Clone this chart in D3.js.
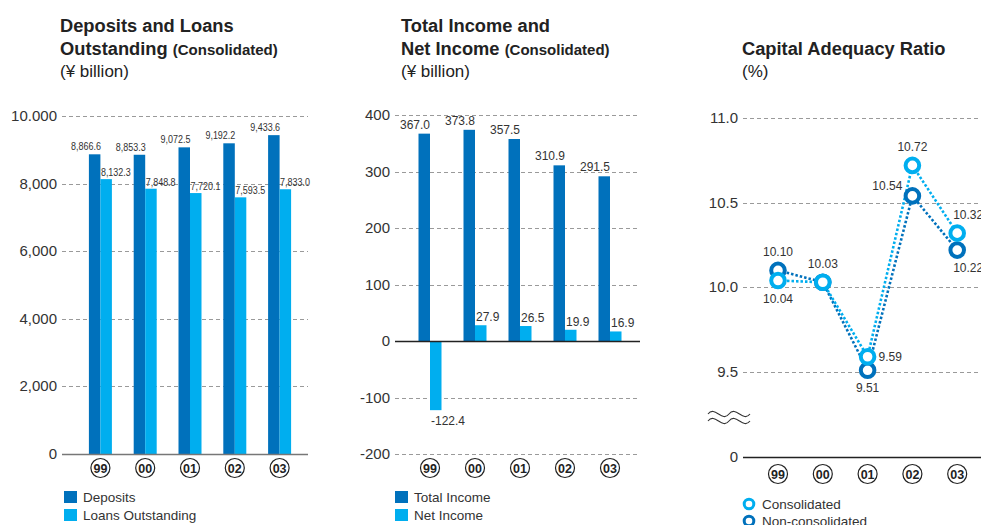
<!DOCTYPE html>
<html>
<head>
<meta charset="utf-8">
<script src="https://cdn.jsdelivr.net/npm/d3@7"></script>
<style>
  html, body { margin: 0; padding: 0; background: #fff; }
  svg { display: block; font-family: "Liberation Sans", Arial, sans-serif; }
</style>
</head>
<body>
<svg id="chart" width="981" height="525"></svg>
<script>
// Fiscal years shown on every panel
const years = ["99", "00", "01", "02", "03"];

// Panel 1: deposits and loans outstanding (¥ billion)
const deposits = [8866.6, 8853.3, 9072.5, 9192.2, 9433.6];
const loans = [8132.3, 7848.8, 7720.1, 7593.5, 7833.0];
const depTicks = [0, 2000, 4000, 6000, 8000, 10000];
const depTickLabels = ["0", "2,000", "4,000", "6,000", "8,000", "10.000"];

// Panel 2: total income and net income (¥ billion)
const totalIncome = [367.0, 373.8, 357.5, 310.9, 291.5];
const netIncome = [-122.4, 27.9, 26.5, 19.9, 16.9];
const incTicks = [-200, -100, 0, 100, 200, 300, 400];

// Panel 3: capital adequacy ratio (%)
const consolidated = [10.04, 10.03, 9.59, 10.72, 10.32];
const nonConsolidated = [10.10, 10.03, 9.51, 10.54, 10.22];
const carTicks = [9.5, 10.0, 10.5, 11.0];
const carTickLabels = ["9.5", "10.0", "10.5", "11.0"];

const DARK = "#0071bc";
const LIGHT = "#00aeef";
const GRID = "#9a9a9a";
const TEXT = "#333";
const fmt1 = d3.format(",.1f");

const svg = d3.select("#chart");

function title(x, lines) {
  const g = svg.append("g");
  lines.forEach(ln => {
    const t = g.append("text").attr("x", x).attr("y", ln.y).attr("fill", "#222");
    ln.parts.forEach(p => {
      t.append("tspan").text(p.text)
        .attr("font-size", p.size).attr("font-weight", p.bold ? "bold" : "normal");
    });
  });
}

function gridlines(g, y, ticks, x0, x1, skip) {
  g.selectAll(null).data(ticks.filter(t => !skip || !skip(t))).join("line")
    .attr("x1", x0).attr("x2", x1)
    .attr("y1", d => Math.round(y(d)) + 0.5).attr("y2", d => Math.round(y(d)) + 0.5)
    .attr("stroke", GRID).attr("stroke-width", 1).attr("stroke-dasharray", "4,3");
}

function yLabels(g, y, ticks, labels, x) {
  g.selectAll(null).data(ticks).join("text")
    .attr("x", x).attr("y", d => y(d) + 5)
    .attr("text-anchor", "end").attr("font-size", 15).attr("fill", TEXT)
    .text((d, i) => labels[i]);
}

function yearBadges(g, x, cy) {
  const b = g.selectAll(null).data(years).join("g")
    .attr("transform", d => `translate(${x(d) + x.bandwidth() / 2},${cy})`);
  b.append("circle").attr("r", 9.5).attr("fill", "#fff").attr("stroke", "#222").attr("stroke-width", 1.2);
  b.append("text").attr("y", 4.5).attr("text-anchor", "middle")
    .attr("font-size", 12.5).attr("font-weight", "bold").attr("fill", "#222").text(d => d);
}

function legendSquares(g, x, y0, items) {
  items.forEach((it, i) => {
    g.append("rect").attr("x", x).attr("y", y0 + i * 18).attr("width", 13).attr("height", 12).attr("fill", it.color);
    g.append("text").attr("x", x + 19).attr("y", y0 + i * 18 + 11)
      .attr("font-size", 13.5).attr("fill", TEXT).text(it.label);
  });
}

// ---------- Panel 1 ----------
{
  title(60, [
    { y: 32, parts: [{ text: "Deposits and Loans", size: 18.3, bold: true }] },
    { y: 55, parts: [{ text: "Outstanding ", size: 18.3, bold: true }, { text: "(Consolidated)", size: 15, bold: true }] },
    { y: 77, parts: [{ text: "(¥ billion)", size: 17 }] }
  ]);
  const g = svg.append("g");
  const x = d3.scaleBand().domain(years).range([78, 302]);
  const y = d3.scaleLinear().domain([0, 10000]).range([454, 116]);
  gridlines(g, y, depTicks, 62, 308, t => t === 0);
  yLabels(g, y, depTicks, depTickLabels, 57);

  const cx = d => x(d) + x.bandwidth() / 2;
  const bw = 11.5;
  g.selectAll(null).data(years).join("rect")
    .attr("x", d => cx(d) - bw).attr("width", bw)
    .attr("y", (d, i) => y(deposits[i])).attr("height", (d, i) => y(0) - y(deposits[i]))
    .attr("fill", DARK);
  g.selectAll(null).data(years).join("rect")
    .attr("x", d => cx(d)).attr("width", bw)
    .attr("y", (d, i) => y(loans[i])).attr("height", (d, i) => y(0) - y(loans[i]))
    .attr("fill", LIGHT);

  // condensed value labels (horizontally squeezed)
  const lbl = (px, py, anchor, txt) => g.append("text")
    .attr("transform", `translate(${px},${py}) scale(0.78,1)`)
    .attr("text-anchor", anchor).attr("font-size", 11.5).attr("fill", TEXT).text(txt);
  years.forEach((d, i) => {
    lbl(cx(d) + 0.5, y(deposits[i]) - 4, "end", fmt1(deposits[i]));
    lbl(cx(d) + 0.5, y(loans[i]) - 3, "start", fmt1(loans[i]));
  });

  g.append("line").attr("x1", 62).attr("x2", 308).attr("y1", y(0) + 0.5).attr("y2", y(0) + 0.5)
    .attr("stroke", "#777").attr("stroke-width", 1.5);

  yearBadges(g, x, 468);
  legendSquares(g, 64, 491, [{ color: DARK, label: "Deposits" }, { color: LIGHT, label: "Loans Outstanding" }]);
}

// ---------- Panel 2 ----------
{
  title(401, [
    { y: 32, parts: [{ text: "Total Income and", size: 18.3, bold: true }] },
    { y: 55, parts: [{ text: "Net Income ", size: 18.3, bold: true }, { text: "(Consolidated)", size: 15, bold: true }] },
    { y: 77, parts: [{ text: "(¥ billion)", size: 17 }] }
  ]);
  const g = svg.append("g");
  const x = d3.scaleBand().domain(years).range([407.5, 632.5]);
  const y = d3.scaleLinear().domain([-200, 400]).range([454, 115]);
  gridlines(g, y, incTicks, 395, 640, t => t === 0);
  yLabels(g, y, incTicks, incTicks.map(String), 390);

  const cx = d => x(d) + x.bandwidth() / 2;
  const bw = 11.5;
  g.selectAll(null).data(years).join("rect")
    .attr("x", d => cx(d) - bw).attr("width", bw)
    .attr("y", (d, i) => y(totalIncome[i])).attr("height", (d, i) => y(0) - y(totalIncome[i]))
    .attr("fill", DARK);
  g.selectAll(null).data(years).join("rect")
    .attr("x", d => cx(d)).attr("width", bw)
    .attr("y", (d, i) => Math.min(y(netIncome[i]), y(0)))
    .attr("height", (d, i) => Math.abs(y(0) - y(netIncome[i])))
    .attr("fill", LIGHT);

  g.selectAll(null).data(years).join("text")
    .attr("font-size", 12).attr("fill", TEXT)
    .attr("x", d => cx(d)).attr("y", (d, i) => y(totalIncome[i]) - 5)
    .attr("text-anchor", "end").text((d, i) => totalIncome[i].toFixed(1));
  g.selectAll(null).data(years).join("text")
    .attr("font-size", 12).attr("fill", TEXT)
    .attr("x", d => cx(d) + 1)
    .attr("y", (d, i) => netIncome[i] < 0 ? y(netIncome[i]) + 15 : y(netIncome[i]) - 4)
    .attr("text-anchor", "start").text((d, i) => netIncome[i].toFixed(1));

  g.append("line").attr("x1", 395).attr("x2", 640).attr("y1", y(0) + 0.5).attr("y2", y(0) + 0.5)
    .attr("stroke", "#222").attr("stroke-width", 1.3);

  yearBadges(g, x, 468);
  legendSquares(g, 395, 491, [{ color: DARK, label: "Total Income" }, { color: LIGHT, label: "Net Income" }]);
}

// ---------- Panel 3 ----------
{
  title(742, [
    { y: 55, parts: [{ text: "Capital Adequacy Ratio", size: 18.3, bold: true }] },
    { y: 77, parts: [{ text: "(%)", size: 17 }] }
  ]);
  const g = svg.append("g");
  const x = d3.scaleBand().domain(years).range([755.6, 979.6]);
  const y = d3.scaleLinear().domain([9.5, 11.0]).range([372, 118]);
  const zeroY = 457;
  gridlines(g, y, carTicks, 743, 981);
  yLabels(g, y, carTicks, carTickLabels, 738);
  g.append("text").attr("x", 738).attr("y", zeroY + 5).attr("text-anchor", "end")
    .attr("font-size", 15).attr("fill", TEXT).text("0");
  g.append("line").attr("x1", 743).attr("x2", 981).attr("y1", zeroY + 0.5).attr("y2", zeroY + 0.5)
    .attr("stroke", "#222").attr("stroke-width", 1.3);

  // axis break mark
  const wave = (y0) => {
    const p = d3.path();
    p.moveTo(708, y0);
    p.bezierCurveTo(715, y0 - 9, 722, y0 + 9, 729, y0);
    p.bezierCurveTo(736, y0 - 9, 743, y0 + 9, 750, y0);
    return p.toString();
  };
  [414, 421].forEach(yy => g.append("path").attr("d", wave(yy))
    .attr("fill", "none").attr("stroke", "#333").attr("stroke-width", 1.1));

  const cx = d => x(d) + x.bandwidth() / 2;
  const line = d3.line().x((v, i) => cx(years[i])).y(v => y(v));

  const series = [
    { values: nonConsolidated, color: DARK },
    { values: consolidated, color: LIGHT }
  ];
  series.forEach(s => {
    g.append("path").attr("d", line(s.values)).attr("fill", "none")
      .attr("stroke", s.color).attr("stroke-width", 2.6).attr("stroke-dasharray", "2.5,2");
  });
  series.forEach(s => {
    g.selectAll(null).data(s.values).join("circle")
      .attr("cx", (v, i) => cx(years[i])).attr("cy", v => y(v)).attr("r", 6.8)
      .attr("fill", "#fff").attr("stroke", s.color).attr("stroke-width", 4);
  });

  // value labels: [series, index, dx, dy, anchor]
  const labelSpec = [
    [nonConsolidated, 0, 0, -14, "middle"],
    [consolidated, 0, 0, 22, "middle"],
    [consolidated, 1, 0, -14, "middle"],
    [consolidated, 2, 11, 4, "start"],
    [nonConsolidated, 2, 0, 22, "middle"],
    [consolidated, 3, 0, -14, "middle"],
    [nonConsolidated, 3, -10, -6, "end"],
    [consolidated, 4, -4, -14, "start"],
    [nonConsolidated, 4, -4, 22, "start"]
  ];
  labelSpec.forEach(([vals, i, dx, dy, anchor]) => {
    g.append("text").attr("x", cx(years[i]) + dx).attr("y", y(vals[i]) + dy)
      .attr("text-anchor", anchor).attr("font-size", 12).attr("fill", TEXT)
      .text(vals[i].toFixed(2));
  });

  yearBadges(g, x, 474);

  [{ color: LIGHT, label: "Consolidated" }, { color: DARK, label: "Non-consolidated" }].forEach((it, i) => {
    g.append("circle").attr("cx", 749).attr("cy", 504 + i * 17).attr("r", 4.8)
      .attr("fill", "#fff").attr("stroke", it.color).attr("stroke-width", 3);
    g.append("text").attr("x", 762).attr("y", 509 + i * 17)
      .attr("font-size", 13.5).attr("fill", TEXT).text(it.label);
  });
}
</script>
</body>
</html>
